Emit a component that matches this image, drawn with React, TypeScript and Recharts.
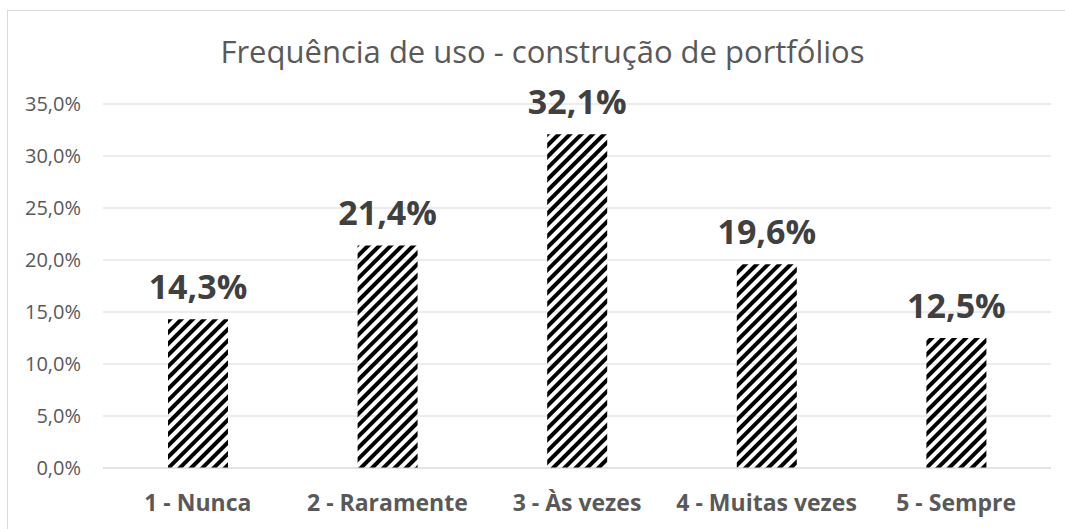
import React from 'react';
import { BarChart, Bar, XAxis, YAxis, CartesianGrid, LabelList } from 'recharts';

const categories = ['1 - Nunca', '2 - Raramente', '3 - Às vezes', '4 - Muitas vezes', '5 - Sempre'];
const values = [14.3, 21.4, 32.1, 19.6, 12.5];
const yTicks = [0, 5, 10, 15, 20, 25, 30, 35];

const data = categories.map((name, i) => ({ name, value: values[i] }));

const fmt = (v: number) => `${v.toFixed(1).replace('.', ',')}%`;

const FONT = '"Open Sans", sans-serif';

export default function App() {
  return (
    <div style={{ position: 'absolute', left: 0, top: 0, width: 1065, height: 529, background: '#fff', overflow: 'hidden' }}>
      <svg width={0} height={0} style={{ position: 'absolute' }}>
        <defs>
          <pattern id="stripes" width={8} height={8} patternUnits="userSpaceOnUse" patternTransform="rotate(45)">
            <rect x={0} y={0} width={4} height={8} fill="#000" />
          </pattern>
        </defs>
      </svg>
      {/* chart frame, only left and top edges visible in the crop */}
      <div style={{ position: 'absolute', left: 7, top: 10, width: 1100, height: 600, borderLeft: '1px solid #d9d9d9', borderTop: '1px solid #d9d9d9' }} />
      <div
        style={{
          position: 'absolute', left: 0, width: 1085, top: 30, textAlign: 'center',
          fontFamily: FONT, fontSize: 31, color: '#595959',
        }}
      >
        Frequência de uso - construção de portfólios
      </div>
      <div style={{ position: 'absolute', left: 0, top: 0 }}>
        <BarChart width={1065} height={529} data={data} margin={{ top: 104, right: 14, bottom: 0, left: 0 }}>
          <CartesianGrid vertical={false} stroke="#d9d9d9" />
          <XAxis
            dataKey="name"
            height={61}
            axisLine={{ stroke: '#d9d9d9' }}
            tickLine={false}
            tick={{ fill: '#595959', fontSize: 23, fontWeight: 700, fontFamily: FONT }}
            dy={19}
            interval={0}
          />
          <YAxis
            width={103}
            domain={[0, 35]}
            ticks={yTicks}
            tickFormatter={fmt}
            axisLine={false}
            tickLine={false}
            tick={{ fill: '#595959', fontSize: 20, fontFamily: FONT }}
            dx={-14}
            interval={0}
          />
          <Bar dataKey="value" barSize={60} fill="url(#stripes)" isAnimationActive={false}>
            <LabelList
              dataKey="value"
              position="top"
              offset={20}
              formatter={(v: number) => fmt(v)}
              style={{ fill: '#404040', fontSize: 34, fontWeight: 700, fontFamily: FONT }}
            />
          </Bar>
        </BarChart>
      </div>
    </div>
  );
}
